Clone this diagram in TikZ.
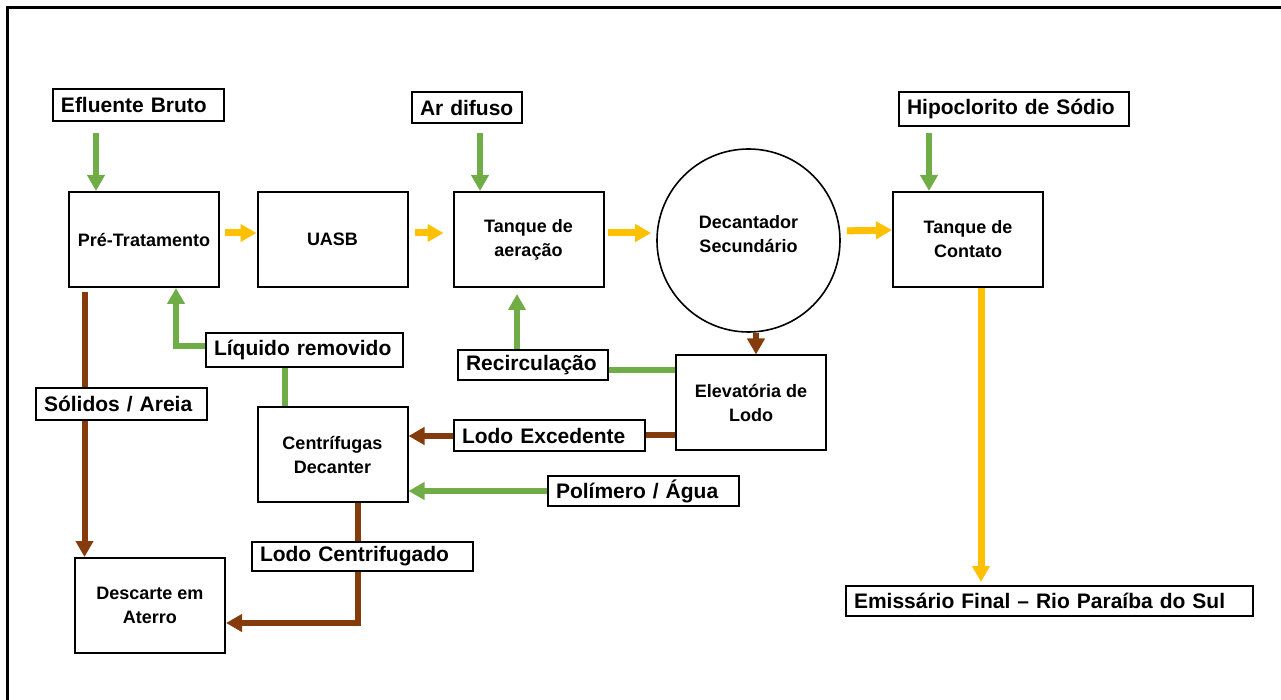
\documentclass[tikz,border=0pt]{standalone}
\usepackage{fontspec}
\setmainfont{Liberation Sans}
\usepackage{tikz}
\usetikzlibrary{arrows.meta}
\usepackage{xcolor}
\definecolor{grn}{RGB}{112,173,71}
\definecolor{ylw}{RGB}{255,192,0}
\definecolor{brn}{RGB}{132,60,12}
\tikzset{
  proc/.style={draw, line width=1pt, minimum width=75pt, minimum height=47.5pt, align=center,
    font=\fontsize{9}{12}\selectfont\bfseries},
  tank/.style={draw, circle, line width=0.8pt, minimum size=91.5pt, inner sep=0pt},
  lbl/.style={draw, line width=1pt, inner xsep=4pt, inner ysep=0pt, align=left, minimum height=#1,
    font=\fontsize{10.5}{12}\selectfont\bfseries},
  tip/.style={-{Triangle[width=8.5pt,length=8pt]}},
  gline/.style={draw=grn, line width=3pt},
  bline/.style={draw=brn, line width=3pt},
  yline/.style={draw=ylw, line width=3.5pt},
}
\begin{document}
\begin{tikzpicture}[x=0.5pt,y=-0.5pt]
\useasboundingbox (0,0) rectangle (1281,700);
\draw[line width=1.5pt] (7,700)--(7,7.5)--(1281,7.5);
% caixas do processo
\node[proc] (pre) at (144,239.5) {Pré-Tratamento};
\node[proc] (uasb) at (332.5,239.5) {UASB};
\node[proc] (aer) at (528.5,239.5) {Tanque de\\aeração};
\node[tank] (dec) at (748.5,240.5) {};
\node[align=center, font=\fontsize{9}{12}\selectfont\bfseries] (dectxt) at ([yshift=3pt]dec.center) {Decantador\\Secundário};
\node[proc] (cont) at (968,239.5) {Tanque de\\Contato};
\node[proc] (elev) at (751,403) {Elevatória de\\Lodo};
\node[proc] (cent) at (332.5,454.5) {Centrífugas\\Decanter};
\node[proc] (desc) at (150,605.5) {Descarte em\\Aterro};
% rotulos
\node[lbl=16pt, text width=77.5pt] (eflu) at (138.5,105) {Efluente Bruto};
\node[lbl=15.5pt, text width=47pt] (ar) at (467,107.5) {Ar difuso};
\node[lbl=17pt, text width=107pt] (hipo) at (1014,109) {Hipoclorito de Sódio};
\node[lbl=17pt, text width=90.5pt] (liq) at (304.5,350) {Líquido removido};
\node[lbl=15pt, text width=67pt] (rec) at (533,365) {Recirculação};
\node[lbl=16pt, text width=77.5pt] (sol) at (121.5,404) {Sólidos / Areia};
\node[lbl=15.5pt, text width=87.5pt] (lexc) at (549.5,435.5) {Lodo Excedente};
\node[lbl=15pt, text width=87.5pt] (poli) at (643.5,491) {Polímero / Água};
\node[lbl=14.5pt, text width=102.5pt] (lcent) at (362.5,556.5) {Lodo Centrifugado};
\node[lbl=15pt, text width=195.5pt] (emis) at (1049.5,601) {Emissário Final -- Rio Paraíba do Sul};
% entradas
\coordinate (e1) at (96,133);
\coordinate (a1) at (480,133);
\coordinate (h1) at (929,133);
\draw[gline, tip] (e1)--(e1 |- pre.north);
\draw[gline, tip] (a1)--(a1 |- aer.north);
\draw[gline, tip] (h1)--(h1 |- cont.north);
% linha liquida
\draw[yline, tip, shorten <=2.5pt] ([yshift=3.25pt]pre.east)--([yshift=3.25pt]uasb.west);
\draw[yline, tip, shorten <=3pt, shorten >=4.5pt] ([yshift=3.25pt]uasb.west -| uasb.east)--([yshift=3.25pt]aer.west);
\draw[yline, tip, shorten <=1.5pt, shorten >=2.5pt] ([yshift=3.25pt]aer.east)--([yshift=3.25pt]aer.east -| dec.west);
\draw[yline, tip, shorten <=3pt] ([yshift=4.75pt]dec.east)--([yshift=4.75pt]cont.west);
\draw[yline, tip, shorten >=1.5pt] ([xshift=6.5pt]cont.south)--([xshift=6.5pt]cont.south |- emis.north);
% lodo
\draw[bline, tip] ([xshift=3.75pt]dec.south)--([xshift=3.75pt]dec.south |- elev.north);
\draw[gline] ([yshift=16.5pt]elev.west)--([yshift=16.5pt]elev.west -| rec.east);
\draw[gline, tip, shorten >=3pt] ([xshift=-8pt]rec.north)--([xshift=-8pt]rec.north |- aer.south);
\draw[bline] ([yshift=-16pt]elev.west)--([yshift=-16pt]elev.west -| lexc.east);
\draw[bline, tip] ([yshift=-0.25pt]lexc.west)--([yshift=-0.25pt]lexc.west -| cent.east);
\draw[gline, tip] (poli.west)--(poli.west -| cent.east);
\draw[gline] ([xshift=-23.75pt]cent.north)--([xshift=-23.75pt]cent.north |- liq.south);
\draw[gline, tip] ([yshift=2pt]liq.west) -| ([xshift=16pt]pre.south);
\coordinate (s1) at (84.5,292);
\draw[bline] (s1)--(s1 |- sol.north);
\draw[bline, tip] (s1 |- sol.south)--(s1 |- desc.north);
\draw[bline] ([xshift=12.75pt]cent.south)--([xshift=12.75pt]cent.south |- lcent.north);
\draw[bline, tip] ([xshift=12.75pt]cent.south |- lcent.south) |- ([yshift=-8.75pt]desc.east);
\end{tikzpicture}
\end{document}
